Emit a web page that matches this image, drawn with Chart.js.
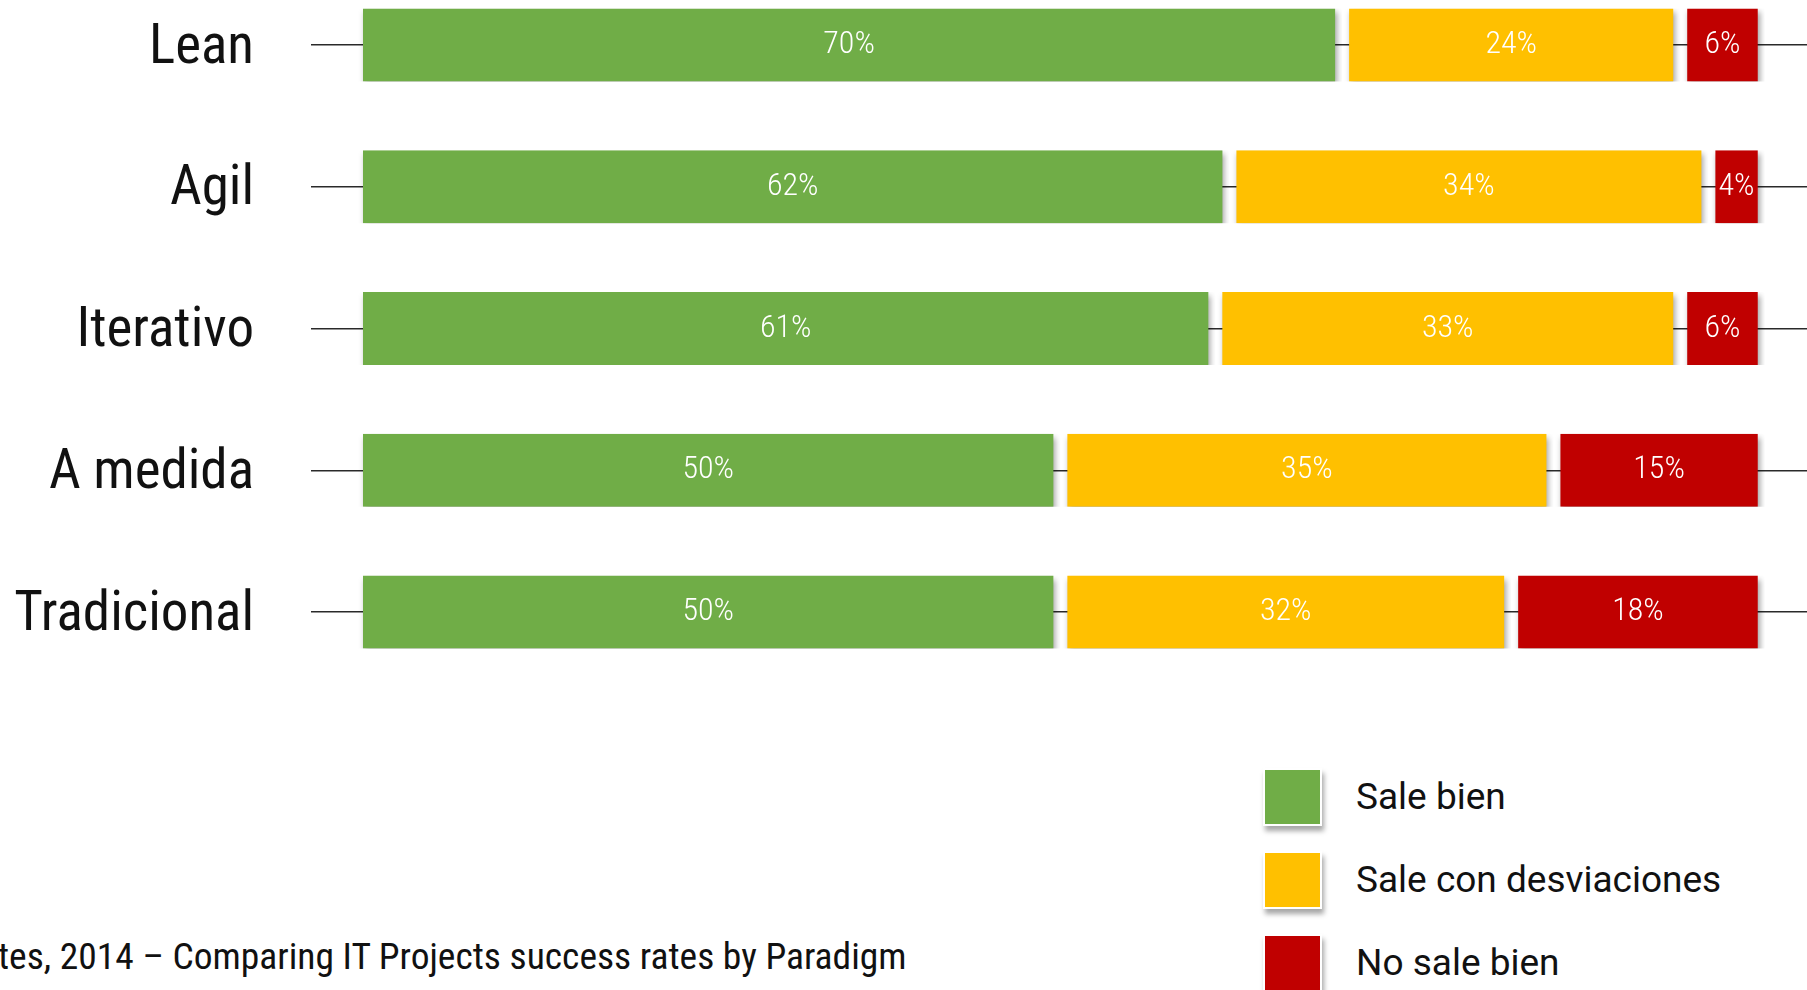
<!DOCTYPE html>
<html>
<head>
<meta charset="utf-8">
<script src="https://cdn.jsdelivr.net/npm/chart.js@4.4.1/dist/chart.umd.min.js"></script>
<style>
html, body { margin: 0; padding: 0; background: #fff; overflow: hidden; }
body { width: 1807px; height: 990px; position: relative; color: #111;
       font-family: 'Roboto Condensed', 'Liberation Sans', sans-serif; }
#zona { position: absolute; left: 0; top: -26px; width: 1807px; height: 709px; }
#leyenda { position: absolute; left: 1263px; top: 755px; }
.fila { display: flex; align-items: center; height: 83px; }
.caja { width: 59px; height: 58px; box-sizing: border-box; border: 2px solid #fff;
        box-shadow: 2px 5px 5px rgba(0,0,0,0.35); margin-right: 34px; }
.texto { font-family: Roboto, 'Liberation Sans', sans-serif; font-size: 37px; line-height: 1; }
#fuente { position: absolute; left: -2px; top: 938px; font-size: 37.5px; line-height: 1; white-space: nowrap; }
</style>
</head>
<body>
<div id="zona"><canvas id="grafico" width="1807" height="709"></canvas></div>
<div id="leyenda"></div>
<div id="fuente">tes, 2014 – Comparing IT Projects success rates by Paradigm</div>

<script>
// datos
var categorias = ['Lean', 'Agil', 'Iterativo', 'A medida', 'Tradicional'];
var saleBien = [70, 62, 61, 50, 50];
var saleConDesviaciones = [24, 34, 33, 35, 32];
var noSaleBien = [6, 4, 6, 15, 18];

var nombresSeries = ['Sale bien', 'Sale con desviaciones', 'No sale bien'];
var coloresSeries = ['#70AD47', '#FFC000', '#C00000'];

var familia = "'Roboto Condensed', 'Liberation Sans', sans-serif";

// sombra bajo las barras + etiquetas blancas con el porcentaje
var pluginBarras = {
    id: 'pluginBarras',
    beforeDatasetsDraw: function(chart) {
        var ctx = chart.ctx;
        ctx.save();
        ctx.shadowColor = 'rgba(0, 0, 0, 0.38)';
        ctx.shadowBlur = 6;
        ctx.shadowOffsetX = 2;
        ctx.shadowOffsetY = 4;
    },
    afterDatasetsDraw: function(chart) {
        var ctx = chart.ctx;
        ctx.restore();
        ctx.save();
        ctx.font = '300 32px ' + familia;
        ctx.fillStyle = '#fff';
        ctx.textAlign = 'center';
        ctx.textBaseline = 'middle';
        chart.data.datasets.forEach(function(ds, i) {
            chart.getDatasetMeta(i).data.forEach(function(barra, j) {
                var p = barra.getCenterPoint();
                ctx.fillText(ds.data[j] + '%', p.x, p.y);
            });
        });
        ctx.restore();
    }
};

function serie(i, valores) {
    return {
        label: nombresSeries[i],
        data: valores,
        backgroundColor: coloresSeries[i],
        borderColor: 'rgba(0, 0, 0, 0)',
        borderWidth: { left: 7, right: 7, top: 0, bottom: 0 },
        borderSkipped: false,
        barPercentage: 0.515,
        categoryPercentage: 1
    };
}

var ctx = document.getElementById('grafico').getContext('2d');
var chart = new Chart(ctx, {
    type: 'bar',
    data: {
        labels: categorias,
        datasets: [
            serie(0, saleBien),
            serie(1, saleConDesviaciones),
            serie(2, noSaleBien)
        ]
    },
    options: {
        responsive: false,
        animation: false,
        indexAxis: 'y',
        layout: { padding: 0 },
        plugins: {
            legend: { display: false },
            tooltip: { enabled: false },
            title: { display: false }
        },
        scales: {
            x: {
                display: false,
                stacked: true,
                min: 0,
                max: 103
            },
            y: {
                stacked: true,
                border: { display: false },
                grid: {
                    offset: false,
                    color: '#2a2a2a',
                    lineWidth: 1.5,
                    tickLength: 45,
                    drawTicks: true
                },
                ticks: {
                    padding: 57,
                    labelOffset: 4,
                    color: '#111',
                    font: { family: familia, size: 55 }
                },
                afterFit: function(scale) {
                    scale.width = 356; // borde izquierdo de las barras
                    scale.paddingTop = 0;
                    scale.paddingBottom = 0;
                }
            }
        }
    },
    plugins: [pluginBarras]
});

// leyenda en html, a partir de las series
var leyenda = document.getElementById('leyenda');
for (var i = 0; i < nombresSeries.length; i++) {
    var fila = document.createElement('div');
    fila.className = 'fila';
    var caja = document.createElement('div');
    caja.className = 'caja';
    caja.style.background = coloresSeries[i];
    var texto = document.createElement('span');
    texto.className = 'texto';
    texto.textContent = nombresSeries[i];
    fila.appendChild(caja);
    fila.appendChild(texto);
    leyenda.appendChild(fila);
}
</script>
</body>
</html>
